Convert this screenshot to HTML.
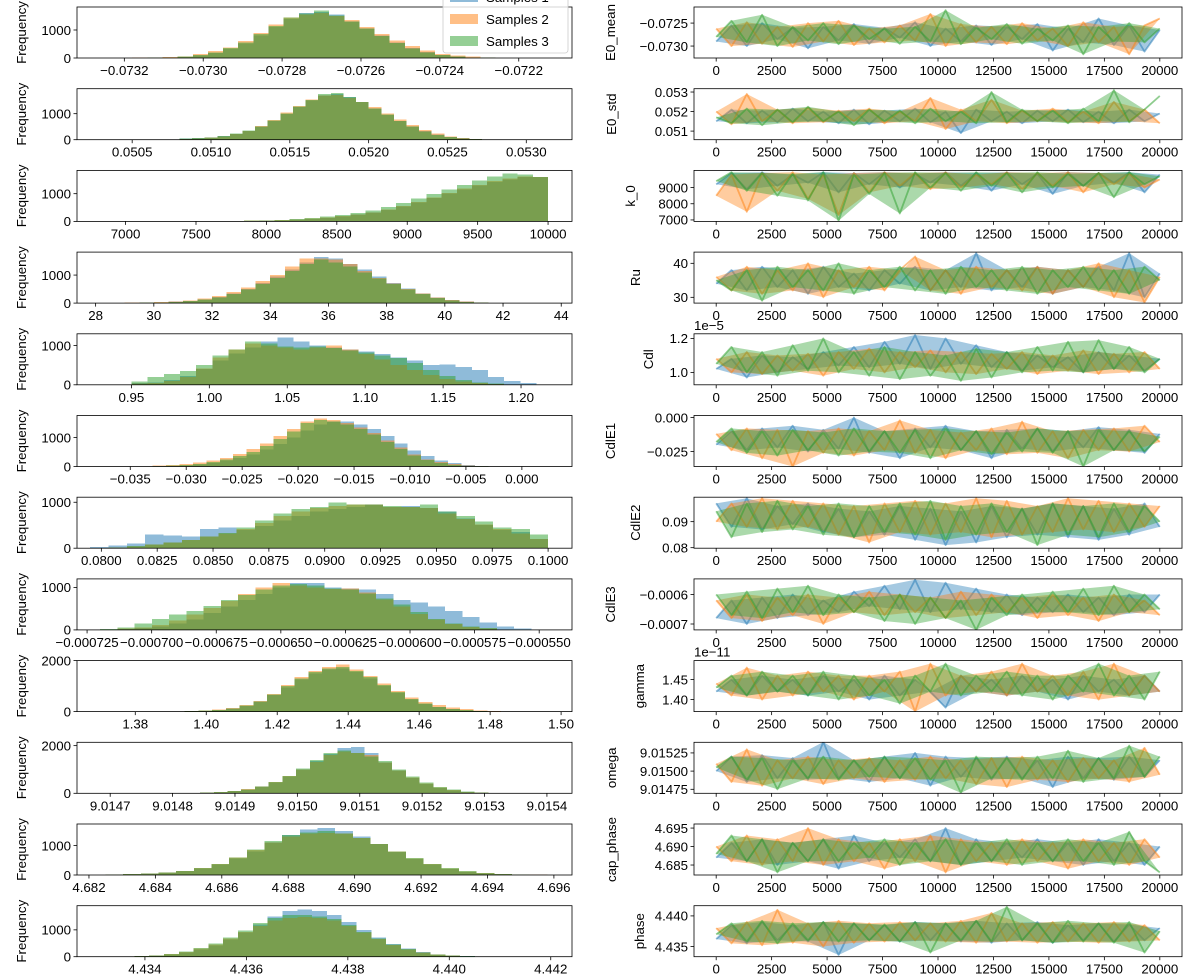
<!DOCTYPE html>
<html><head><meta charset="utf-8"><title>MCMC histograms and traces</title>
<style>
html,body{margin:0;padding:0;background:#fff;}
svg{display:block;font-family:"Liberation Sans","DejaVu Sans",sans-serif;}
</style></head>
<body>
<svg id="fig" width="1200" height="980" viewBox="0 0 1200 980" xmlns="http://www.w3.org/2000/svg"></svg>
<script>
// ---------------- Histogram data (bin heights, 25 bins per series) ----------------
const e0meanRange=[-0.07318,-0.07222];
const e0meanH1=[5,10,20,40,90,180,320,520,800,1100,1400,1600,1650,1550,1300,1050,800,560,360,210,110,55,25,12,5];
const e0meanH2=[10,15,30,60,140,250,380,600,900,1200,1450,1550,1600,1500,1350,1100,850,620,420,260,150,90,45,20,8];
const e0meanH3=[5,12,25,50,100,200,360,560,850,1150,1450,1580,1700,1520,1300,1050,780,540,340,200,110,50,25,10,5];
const e0stdRange=[0.05080,0.05280];
const e0stdH1=[40,60,90,140,220,340,500,720,980,1250,1500,1700,1750,1650,1450,1200,950,720,500,330,200,110,60,25,10];
const e0stdH2=[30,50,80,130,210,330,520,760,1050,1300,1550,1700,1720,1600,1450,1250,1000,780,560,380,230,130,70,30,10];
const e0stdH3=[50,60,90,150,230,350,510,740,1000,1280,1520,1750,1800,1650,1450,1200,960,720,500,320,190,100,50,20,8];
const k0Range=[7300,10000];
const k0H1=[5,5,5,10,15,20,30,40,60,90,130,180,240,320,420,540,680,840,1000,1150,1300,1420,1520,1600,1600];
const k0H2=[10,20,15,20,15,25,35,50,70,100,140,190,250,330,430,550,700,860,1020,1180,1320,1450,1550,1620,1600];
const k0H3=[5,5,10,15,20,25,35,55,80,120,170,230,300,400,520,660,820,980,1150,1320,1480,1620,1720,1700,1600];
const ruRange=[29,41.5];
const ruH1=[10,20,30,50,80,130,220,340,500,720,950,1200,1450,1650,1600,1400,1200,950,720,520,340,200,110,50,20];
const ruH2=[20,30,40,60,100,160,260,400,560,780,1000,1300,1600,1600,1550,1400,1150,900,700,500,340,200,110,50,20];
const ruH3=[10,15,25,40,70,120,200,320,480,680,900,1150,1400,1550,1450,1300,1100,880,680,490,320,190,100,45,15];
const cdlRange=[0.95,1.21];
const cdlH1=[40,60,120,220,400,620,800,950,1100,1200,1100,1000,950,900,850,780,700,620,500,520,450,380,200,100,50];
const cdlH2=[30,50,100,200,420,700,900,1050,1000,950,900,950,1000,900,780,650,500,380,250,150,80,40,20,10,5];
const cdlH3=[80,200,280,350,500,750,900,1100,1050,980,950,980,940,880,820,750,680,560,380,220,120,60,30,10,5];
const cdle1Range=[-0.033,-0.003];
const cdle1H1=[10,20,40,70,120,200,300,420,580,780,1000,1250,1450,1550,1550,1450,1300,1050,800,560,360,210,120,60,25];
const cdle1H2=[30,50,80,130,200,300,430,600,800,1050,1300,1550,1650,1600,1500,1350,1150,900,650,420,250,150,80,40,15];
const cdle1H3=[15,30,50,90,150,240,360,500,700,950,1200,1500,1600,1550,1450,1300,1100,850,600,380,220,120,60,25,10];
const cdle2Range=[0.0795,0.1000];
const cdle2H1=[30,60,100,300,280,250,420,450,400,480,600,700,800,850,900,950,900,920,880,800,650,500,400,350,200];
const cdle2H2=[0,10,40,80,120,180,260,320,420,550,700,800,880,920,950,950,900,900,870,750,640,520,420,320,200];
const cdle2H3=[0,20,50,80,120,180,250,330,450,600,750,850,900,1000,950,950,920,900,950,800,700,580,450,420,300];
const cdle3Range=[-0.000720,-0.000553];
const cdle3H1=[10,20,40,80,150,250,400,550,700,850,1000,1100,1100,1000,980,950,850,700,650,550,450,300,180,80,30];
const cdle3H2=[10,30,60,120,220,360,520,680,850,1000,1100,1050,1000,960,980,880,720,550,380,240,140,70,30,10,5];
const cdle3H3=[20,60,150,260,360,450,560,700,820,950,1050,1080,1050,980,950,860,740,600,420,260,150,80,40,15,5];
const gammaRange=[1.39,1.487];
const gammaH1=[5,15,30,60,120,220,400,650,950,1250,1500,1650,1700,1550,1300,1000,720,480,300,180,100,50,25,10,5];
const gammaH2=[10,20,40,80,150,260,420,700,1050,1350,1600,1750,1850,1650,1400,1100,800,550,380,260,170,100,50,25,10];
const gammaH3=[5,15,35,70,130,230,400,680,1000,1300,1550,1700,1750,1600,1350,1050,760,500,320,190,110,55,25,10,5];
const omegaRange=[9.01480,9.01535];
const omegaH1=[10,20,30,50,90,160,280,460,700,1000,1350,1650,1900,1950,1700,1300,950,650,400,230,120,60,30,15,8];
const omegaH2=[10,20,40,60,100,170,290,470,720,1000,1320,1600,1750,1700,1600,1300,950,660,420,240,130,60,30,15,5];
const omegaH3=[10,15,25,50,90,160,280,470,720,1050,1400,1700,1800,1700,1550,1350,1000,700,450,270,150,80,35,15,5];
const capRange=[4.6825,4.6958];
const capH1=[20,30,50,80,130,220,350,560,800,1100,1350,1550,1600,1500,1300,1050,780,540,350,200,110,55,30,15,10];
const capH2=[20,30,50,80,140,230,370,600,850,1100,1300,1400,1420,1400,1250,1050,800,560,370,220,120,60,30,15,10];
const capH3=[20,30,50,90,140,240,380,600,860,1150,1350,1450,1500,1400,1250,1050,800,580,380,230,130,60,30,15,8];
const phaseRange=[4.4335,4.4408];
const phaseH1=[10,20,40,80,150,260,420,650,900,1200,1500,1700,1750,1700,1550,1300,1000,720,480,300,170,90,45,20,10];
const phaseH2=[10,20,50,100,180,300,460,680,920,1150,1350,1450,1480,1450,1350,1150,900,660,440,270,150,80,40,15,8];
const phaseH3=[10,20,50,100,190,320,500,720,980,1250,1450,1550,1550,1500,1400,1180,920,670,450,280,160,80,40,20,8];

// ---------------- Trace data (values sampled evenly over 0..20000 iterations) ----------------
const e0meanT1=[-0.07290,-0.07255,-0.07300,-0.07250,-0.07285,-0.07260,-0.07305,-0.07258,-0.07288,-0.07252,-0.07295,-0.07260,-0.07282,-0.07248,-0.07300,-0.07262,-0.07290,-0.07255,-0.07298,-0.07258,-0.07285,-0.07252,-0.07310,-0.07262,-0.07292,-0.07240,-0.07298,-0.07255,-0.07312,-0.07265];
const e0meanT2=[-0.07262,-0.07300,-0.07248,-0.07295,-0.07258,-0.07302,-0.07250,-0.07290,-0.07245,-0.07298,-0.07262,-0.07292,-0.07255,-0.07288,-0.07230,-0.07300,-0.07252,-0.07292,-0.07258,-0.07296,-0.07250,-0.07288,-0.07262,-0.07300,-0.07248,-0.07292,-0.07258,-0.07318,-0.07255,-0.07240];
const e0meanT3=[-0.07280,-0.07245,-0.07292,-0.07232,-0.07300,-0.07258,-0.07288,-0.07250,-0.07296,-0.07255,-0.07285,-0.07262,-0.07295,-0.07258,-0.07290,-0.07222,-0.07296,-0.07260,-0.07285,-0.07252,-0.07295,-0.07262,-0.07288,-0.07255,-0.07318,-0.07258,-0.07290,-0.07250,-0.07292,-0.07262];
const e0stdT1=[0.05150,0.05210,0.05140,0.05205,0.05145,0.05215,0.05150,0.05200,0.05140,0.05210,0.05135,0.05205,0.05150,0.05215,0.05145,0.05200,0.05090,0.05210,0.05150,0.05200,0.05140,0.05205,0.05150,0.05210,0.05145,0.05200,0.05140,0.05210,0.05150,0.05190];
const e0stdT2=[0.05200,0.05135,0.05290,0.05150,0.05210,0.05140,0.05220,0.05145,0.05205,0.05150,0.05215,0.05140,0.05200,0.05150,0.05270,0.05110,0.05210,0.05150,0.05260,0.05140,0.05205,0.05150,0.05215,0.05145,0.05200,0.05140,0.05250,0.05150,0.05210,0.05140];
const e0stdT3=[0.05170,0.05140,0.05215,0.05130,0.05210,0.05145,0.05225,0.05150,0.05200,0.05130,0.05210,0.05150,0.05205,0.05140,0.05215,0.05150,0.05200,0.05140,0.05300,0.05145,0.05210,0.05150,0.05205,0.05140,0.05215,0.05150,0.05310,0.05145,0.05210,0.05280];
const k0T1=[9200,9900,8900,9950,9100,9800,9300,9950,8700,9900,9200,9950,9000,9850,9300,9950,9100,9900,8800,9950,9200,9850,8600,9950,9100,9900,9300,9950,8700,9800];
const k0T2=[8500,9800,7500,9900,8800,9950,8300,9800,7300,9900,8700,9950,9100,9900,8900,9950,9000,9800,9200,9950,8900,9900,9100,9950,8700,9900,9200,9850,9000,9500];
const k0T3=[9400,9950,8800,9900,8500,9850,8200,9950,6950,9800,8600,9900,7400,9950,9000,9900,8800,9950,9100,9900,8700,9950,9000,9850,9100,9900,8400,9950,9200,9700];
const ruT1=[34,38,32,39,33,38,31,39,33,37,32,38,34,39,32,38,33,43,32,38,33,39,31,38,33,39,32,43,30,37];
const ruT2=[36,32,39,31,38,32,40,30,38,33,39,32,38,42,32,38,31,39,33,38,32,39,31,38,33,40,30,38,28.5,36];
const ruT3=[35,32,38,29,39,33,38,32,40,31,38,33,39,32,38,31,39,33,38,32,39,31,38,33,39,32,38,31,39,35];
const cdlT1=[1.02,1.08,0.97,1.10,1.00,1.09,1.02,1.12,1.04,1.15,1.03,1.18,1.05,1.22,1.02,1.20,1.05,1.16,1.03,1.12,1.01,1.10,1.03,1.09,1.00,1.12,1.02,1.10,1.01,1.08];
const cdlT2=[1.08,1.00,1.12,0.99,1.10,1.01,1.11,0.98,1.12,1.02,1.14,1.00,1.12,1.03,1.13,1.00,1.12,0.99,1.11,1.02,1.12,0.99,1.10,1.01,1.13,0.99,1.11,1.00,1.12,1.02];
const cdlT3=[1.05,1.15,1.00,1.12,0.98,1.16,1.01,1.20,1.00,1.12,0.98,1.15,0.96,1.12,0.98,1.10,0.95,1.14,0.97,1.12,1.00,1.15,1.01,1.18,1.00,1.19,1.02,1.15,1.00,1.08];
const cdle1T1=[-0.020,-0.010,-0.024,-0.008,-0.022,-0.006,-0.025,-0.009,-0.023,0.000,-0.026,-0.010,-0.030,-0.008,-0.022,-0.006,-0.024,-0.010,-0.030,-0.009,-0.023,-0.008,-0.025,-0.010,-0.022,-0.007,-0.024,-0.009,-0.026,-0.012];
const cdle1T2=[-0.012,-0.024,-0.008,-0.030,-0.009,-0.036,-0.010,-0.026,-0.008,-0.028,-0.010,-0.024,-0.002,-0.026,-0.009,-0.030,-0.011,-0.024,-0.008,-0.027,-0.003,-0.026,-0.010,-0.030,-0.009,-0.024,-0.008,-0.025,-0.006,-0.018];
const cdle1T3=[-0.018,-0.008,-0.026,-0.010,-0.028,-0.009,-0.024,-0.011,-0.028,-0.008,-0.025,-0.010,-0.026,-0.009,-0.030,-0.008,-0.024,-0.010,-0.027,-0.011,-0.025,-0.008,-0.026,-0.010,-0.036,-0.009,-0.024,-0.010,-0.025,-0.014];
const cdle2T1=[0.097,0.088,0.099,0.087,0.096,0.089,0.097,0.086,0.095,0.084,0.094,0.085,0.096,0.083,0.095,0.081,0.094,0.082,0.096,0.084,0.095,0.085,0.097,0.084,0.096,0.083,0.095,0.085,0.097,0.088];
const cdle2T2=[0.090,0.097,0.088,0.099,0.087,0.098,0.088,0.097,0.085,0.096,0.082,0.097,0.086,0.098,0.085,0.097,0.086,0.099,0.084,0.098,0.085,0.096,0.086,0.099,0.087,0.098,0.086,0.097,0.088,0.096];
const cdle2T3=[0.094,0.084,0.097,0.086,0.098,0.087,0.096,0.085,0.097,0.084,0.096,0.086,0.097,0.085,0.098,0.083,0.096,0.085,0.097,0.086,0.095,0.081,0.097,0.085,0.096,0.084,0.097,0.086,0.096,0.090];
const cdle3T1=[-0.00068,-0.00062,-0.00070,-0.00061,-0.00068,-0.00060,-0.00067,-0.00062,-0.00066,-0.00059,-0.00064,-0.00057,-0.00065,-0.00055,-0.00066,-0.00056,-0.00065,-0.00058,-0.00066,-0.00060,-0.00067,-0.00061,-0.00066,-0.00060,-0.00066,-0.00061,-0.00067,-0.00060,-0.00066,-0.00060];
const cdle3T2=[-0.00062,-0.00068,-0.00060,-0.00069,-0.00061,-0.00067,-0.00060,-0.00070,-0.00061,-0.00066,-0.00059,-0.00067,-0.00060,-0.00066,-0.00061,-0.00068,-0.00059,-0.00067,-0.00060,-0.00066,-0.00061,-0.00068,-0.00060,-0.00067,-0.00061,-0.00069,-0.00060,-0.00066,-0.00062,-0.00067];
const cdle3T3=[-0.00060,-0.00067,-0.00059,-0.00068,-0.00058,-0.00066,-0.00057,-0.00067,-0.00060,-0.00066,-0.00061,-0.00069,-0.00060,-0.00070,-0.00061,-0.00068,-0.00062,-0.00072,-0.00061,-0.00067,-0.00060,-0.00066,-0.00059,-0.00066,-0.00058,-0.00067,-0.00057,-0.00066,-0.00060,-0.00065];
const gammaT1=[1.42,1.45,1.41,1.46,1.42,1.45,1.41,1.46,1.42,1.45,1.40,1.46,1.41,1.45,1.42,1.38,1.46,1.42,1.45,1.41,1.46,1.42,1.45,1.40,1.46,1.42,1.45,1.41,1.46,1.42];
const gammaT2=[1.44,1.41,1.48,1.40,1.46,1.41,1.47,1.42,1.46,1.40,1.46,1.42,1.47,1.37,1.49,1.41,1.46,1.42,1.47,1.41,1.49,1.42,1.46,1.41,1.47,1.40,1.49,1.41,1.46,1.42];
const gammaT3=[1.43,1.46,1.41,1.47,1.42,1.46,1.41,1.47,1.40,1.46,1.41,1.45,1.39,1.46,1.42,1.49,1.41,1.46,1.42,1.47,1.41,1.46,1.40,1.46,1.42,1.49,1.41,1.46,1.40,1.47];
const omegaT1=[9.01500,9.01520,9.01485,9.01522,9.01490,9.01518,9.01488,9.01540,9.01490,9.01515,9.01485,9.01520,9.01490,9.01525,9.01480,9.01520,9.01492,9.01518,9.01488,9.01520,9.01490,9.01515,9.01478,9.01520,9.01490,9.01518,9.01488,9.01520,9.01492,9.01515];
const omegaT2=[9.01510,9.01485,9.01530,9.01480,9.01515,9.01490,9.01520,9.01482,9.01515,9.01490,9.01518,9.01485,9.01515,9.01488,9.01520,9.01490,9.01515,9.01482,9.01518,9.01478,9.01520,9.01488,9.01515,9.01485,9.01518,9.01490,9.01515,9.01485,9.01532,9.01495];
const omegaT3=[9.01505,9.01520,9.01488,9.01518,9.01475,9.01515,9.01490,9.01520,9.01488,9.01515,9.01492,9.01520,9.01490,9.01518,9.01488,9.01515,9.01470,9.01520,9.01490,9.01518,9.01488,9.01520,9.01490,9.01528,9.01485,9.01518,9.01490,9.01535,9.01492,9.01520];
const capT1=[4.687,4.691,4.686,4.692,4.685,4.691,4.686,4.692,4.684,4.693,4.686,4.691,4.687,4.692,4.686,4.695,4.685,4.692,4.686,4.691,4.687,4.692,4.686,4.691,4.685,4.692,4.686,4.691,4.685,4.690];
const capT2=[4.690,4.686,4.693,4.685,4.692,4.686,4.695,4.685,4.692,4.686,4.691,4.684,4.692,4.686,4.693,4.683,4.692,4.686,4.691,4.685,4.692,4.686,4.691,4.684,4.692,4.686,4.691,4.685,4.692,4.687];
const capT3=[4.688,4.693,4.686,4.692,4.683,4.691,4.686,4.692,4.686,4.691,4.687,4.692,4.685,4.691,4.686,4.692,4.685,4.691,4.686,4.692,4.685,4.691,4.686,4.692,4.686,4.691,4.685,4.694,4.686,4.683];
const phaseT1=[4.4362,4.4385,4.4355,4.4390,4.4360,4.4385,4.4358,4.4390,4.4336,4.4388,4.4360,4.4385,4.4358,4.4390,4.4360,4.4388,4.4358,4.4392,4.4356,4.4388,4.4360,4.4390,4.4356,4.4385,4.4360,4.4388,4.4358,4.4386,4.4360,4.4380];
const phaseT2=[4.4380,4.4355,4.4390,4.4352,4.4410,4.4356,4.4388,4.4350,4.4392,4.4356,4.4388,4.4358,4.4390,4.4360,4.4388,4.4358,4.4392,4.4356,4.4405,4.4358,4.4388,4.4356,4.4390,4.4358,4.4388,4.4356,4.4390,4.4358,4.4385,4.4360];
const phaseT3=[4.4370,4.4388,4.4358,4.4392,4.4355,4.4388,4.4360,4.4390,4.4358,4.4388,4.4360,4.4386,4.4358,4.4390,4.4340,4.4388,4.4360,4.4392,4.4358,4.4415,4.4360,4.4388,4.4356,4.4392,4.4358,4.4388,4.4356,4.4390,4.4340,4.4375];

// ---------------- Tick labels ----------------
const traceXTicks=[0,2500,5000,7500,10000,12500,15000,17500,20000];
const seriesNames=["Samples 1","Samples 2","Samples 3"];
const colors=["#1f77b4","#ff7f0e","#2ca02c"];

const rows=[
 {p:"E0_mean",h:[e0meanH1,e0meanH2,e0meanH3],hr:e0meanRange,hx:[-0.07332,-0.072065],ht:[-0.0732,-0.0730,-0.0728,-0.0726,-0.0724,-0.0722],hd:4,hy:1821,hyt:[0,1000],
  t:[e0meanT1,e0meanT2,e0meanT3],ty:[-0.07326,-0.07215],tyt:[-0.0725,-0.0730],td:4,lx:611},
 {p:"E0_std",h:[e0stdH1,e0stdH2,e0stdH3],hr:e0stdRange,hx:[0.05015,0.05329],ht:[0.0505,0.0510,0.0515,0.0520,0.0525,0.0530],hd:4,hy:1960,hyt:[0,1000],
  t:[e0stdT1,e0stdT2,e0stdT3],ty:[0.05056,0.05317],tyt:[0.053,0.052,0.051],td:3,lx:612},
 {p:"k_0",h:[k0H1,k0H2,k0H3],hr:k0Range,hx:[6655,10170],ht:[7000,7500,8000,8500,9000,9500,10000],hd:0,hy:1840,hyt:[0,1000],
  t:[k0T1,k0T2,k0T3],ty:[6910,10060],tyt:[9000,8000,7000],td:0,lx:631},
 {p:"Ru",h:[ruH1,ruH2,ruH3],hr:ruRange,hx:[27.36,44.37],ht:[28,30,32,34,36,38,40,42,44],hd:0,hy:1820,hyt:[0,1000],
  t:[ruT1,ruT2,ruT3],ty:[28.3,43.3],tyt:[40,30],td:0,lx:636},
 {p:"Cdl",h:[cdlH1,cdlH2,cdlH3],hr:cdlRange,hx:[0.9151,1.2327],ht:[0.95,1.00,1.05,1.10,1.15,1.20],hd:2,hy:1300,hyt:[0,1000],
  t:[cdlT1,cdlT2,cdlT3],ty:[0.927,1.227],tyt:[1.2,1.0],td:1,lx:649,off:"1e−5"},
 {p:"CdlE1",h:[cdle1H1,cdle1H2,cdle1H3],hr:cdle1Range,hx:[-0.03976,0.00448],ht:[-0.035,-0.030,-0.025,-0.020,-0.015,-0.010,-0.005,0.000],hd:3,hy:1760,hyt:[0,1000],
  t:[cdle1T1,cdle1T2,cdle1T3],ty:[-0.036,0.0015],tyt:[0.000,-0.025],td:3,lx:611},
 {p:"CdlE2",h:[cdle2H1,cdle2H2,cdle2H3],hr:cdle2Range,hx:[0.07891,0.10107],ht:[0.0800,0.0825,0.0850,0.0875,0.0900,0.0925,0.0950,0.0975,0.1000],hd:4,hy:1110,hyt:[0,1000],
  t:[cdle2T1,cdle2T2,cdle2T3],ty:[0.0798,0.0994],tyt:[0.09,0.08],td:2,lx:636},
 {p:"CdlE3",h:[cdle3H1,cdle3H2,cdle3H3],hr:cdle3Range,hx:[-0.0007289,-0.0005373],ht:[-0.000725,-0.000700,-0.000675,-0.000650,-0.000625,-0.000600,-0.000575,-0.000550],hd:6,hy:1200,hyt:[0,1000],
  t:[cdle3T1,cdle3T2,cdle3T3],ty:[-0.00072,-0.000547],tyt:[-0.0006,-0.0007],td:4,lx:611},
 {p:"gamma",h:[gammaH1,gammaH2,gammaH3],hr:gammaRange,hx:[1.36358,1.50307],ht:[1.38,1.40,1.42,1.44,1.46,1.48,1.50],hd:2,hy:2000,hyt:[0,2000],
  t:[gammaT1,gammaT2,gammaT3],ty:[1.37,1.4975],tyt:[1.45,1.40],td:2,lx:640,off:"1e−11"},
 {p:"omega",h:[omegaH1,omegaH2,omegaH3],hr:omegaRange,hx:[9.0146468,9.0154402],ht:[9.0147,9.0148,9.0149,9.0150,9.0151,9.0152,9.0153,9.0154],hd:4,hy:2140,hyt:[0,2000],
  t:[omegaT1,omegaT2,omegaT3],ty:[9.014695,9.015396],tyt:[9.01525,9.01500,9.01475],td:5,lx:612},
 {p:"cap_phase",h:[capH1,capH2,capH3],hr:capRange,hx:[4.68164,4.696545],ht:[4.682,4.684,4.686,4.688,4.690,4.692,4.694,4.696],hd:3,hy:1730,hyt:[0,1000],
  t:[capT1,capT2,capT3],ty:[4.6823,4.6961],tyt:[4.695,4.690,4.685],td:3,lx:612},
 {p:"phase",h:[phaseH1,phaseH2,phaseH3],hr:phaseRange,hx:[4.432661,4.442419],ht:[4.434,4.436,4.438,4.440,4.442],hd:3,hy:1900,hyt:[0,1000],
  t:[phaseT1,phaseT2,phaseT3],ty:[4.43333,4.44167],tyt:[4.440,4.435],td:3,lx:640}
];

const NS="http://www.w3.org/2000/svg";
const svg=document.getElementById("fig");
function mk(tag,attrs,parent){const e=document.createElementNS(NS,tag);for(const k in attrs)e.setAttribute(k,attrs[k]);(parent||svg).appendChild(e);return e;}
function fmt(v,d){let s=Math.abs(v)<1e-12?(0).toFixed(d):v.toFixed(d);return s.replace("-","\u2212");}
function scale(d0,d1,r0,r1){return v=>r0+(v-d0)/(d1-d0)*(r1-r0);}

const L0=77,L1=572,R0=694,R1=1182,H=51;
const FS=13.3;

rows.forEach((r,i)=>{
  const top=7+i*81.7, bot=top+H;
  const key=r.p.toLowerCase().replace(/_/g,"-");
  // ===== histogram axes =====
  const g=mk("g",{});
  
  
  const cp=mk("clipPath",{id:"ch"+i},g);
  mk("rect",{x:L0,y:top,width:L1-L0,height:H},cp);
  const sx=scale(r.hx[0],r.hx[1],L0,L1), sy=scale(0,r.hy,bot,top);
  const bars=mk("g",{"clip-path":"url(#ch"+i+")","shape-rendering":"crispEdges"},g);
  r.h.forEach((counts,s)=>{
    const w=(r.hr[1]-r.hr[0])/counts.length;
    counts.forEach((c,b)=>{
      const x0=sx(r.hr[0]+b*w), x1=sx(r.hr[0]+(b+1)*w);
      const rc=mk("rect",{x:x0,y:sy(c),width:Math.max(0,x1-x0),height:Math.max(0,bot-sy(c)),fill:colors[s],"fill-opacity":0.5},bars);
      
      
    });
  });
  const fr=mk("rect",{x:L0,y:top,width:L1-L0,height:H,fill:"none",stroke:"#000","stroke-width":0.8},g);
  
  
  r.ht.forEach(v=>{
    const x=sx(v);
    mk("line",{x1:x,x2:x,y1:bot,y2:bot+3.5,stroke:"#000","stroke-width":0.8},g);
    const t=mk("text",{x:x,y:bot+17,"font-size":FS,"text-anchor":"middle",fill:"#000"},g);
    t.textContent=fmt(v,r.hd);
    
    
  });
  r.hyt.forEach(v=>{
    const y=sy(v);
    mk("line",{x1:L0-3.5,x2:L0,y1:y,y2:y,stroke:"#000","stroke-width":0.8},g);
    const t=mk("text",{x:L0-6,y:y+4.8,"font-size":FS,"text-anchor":"end",fill:"#000"},g);
    t.textContent=String(v);
    
    
  });
  const yl=mk("text",{x:0,y:0,"font-size":FS,"text-anchor":"middle",transform:"translate(26,"+(top+H/2)+") rotate(-90)",fill:"#000"},g);
  yl.textContent="Frequency";
  
  

  // ===== trace axes =====
  const g2=mk("g",{});
  
  
  const cp2=mk("clipPath",{id:"ct"+i},g2);
  mk("rect",{x:R0,y:top,width:R1-R0,height:H},cp2);
  const tx=scale(-1000,21000,R0,R1), ty=scale(r.ty[0],r.ty[1],bot,top);
  const lines=mk("g",{"clip-path":"url(#ct"+i+")"},g2);
  r.t.forEach((vals,s)=>{
    const P=vals.map((v,k)=>[tx(k*20000/(vals.length-1)),ty(v)]);
    // dense-noise band: envelope between alternating samples
    const ev=P.filter((p,k)=>k%2===0), od=P.filter((p,k)=>k%2===1);
    const poly=ev.concat(od.slice().reverse()).map(p=>p[0].toFixed(1)+","+p[1].toFixed(1)).join(" ");
    const band=mk("polygon",{points:poly,fill:colors[s],"fill-opacity":0.4,stroke:"none"},lines);
    
    
    const pts=P.map(p=>p[0].toFixed(1)+","+p[1].toFixed(1)).join(" ");
    const pl=mk("polyline",{points:pts,fill:"none",stroke:colors[s],"stroke-opacity":0.5,"stroke-width":1.8,"stroke-linejoin":"round"},lines);
    
    
  });
  const fr2=mk("rect",{x:R0,y:top,width:R1-R0,height:H,fill:"none",stroke:"#000","stroke-width":0.8},g2);
  
  
  traceXTicks.forEach(v=>{
    const x=tx(v);
    mk("line",{x1:x,x2:x,y1:bot,y2:bot+3.5,stroke:"#000","stroke-width":0.8},g2);
    const t=mk("text",{x:x,y:bot+17,"font-size":FS,"text-anchor":"middle",fill:"#000"},g2);
    t.textContent=String(v);
    
    
  });
  r.tyt.forEach(v=>{
    const y=ty(v);
    mk("line",{x1:R0-3.5,x2:R0,y1:y,y2:y,stroke:"#000","stroke-width":0.8},g2);
    const t=mk("text",{x:R0-6,y:y+4.8,"font-size":FS,"text-anchor":"end",fill:"#000"},g2);
    t.textContent=fmt(v,r.td);
    
    
  });
  const tl=mk("text",{x:0,y:0,"font-size":FS,"text-anchor":"middle",transform:"translate("+(r.lx+4)+","+(top+H/2)+") rotate(-90)",fill:"#000"},g2);
  tl.textContent=r.p;
  
  
  if(r.off){
    const o=mk("text",{x:R0,y:top-4,"font-size":FS,fill:"#000"},g2);
    o.textContent=r.off;
    
    
  }
});

// ===== legend (top of first histogram, partially cropped) =====
const lg=mk("g",{});


mk("rect",{x:443,y:-14,width:125,height:67,rx:3,fill:"#fff","fill-opacity":0.8,stroke:"#ccc","stroke-width":0.8},lg);
seriesNames.forEach((n,s)=>{
  const y=-3+s*22;
  const sw=mk("rect",{x:450,y:y-5,width:28,height:10,fill:colors[s],"fill-opacity":0.5},lg);
  
  
  const t=mk("text",{x:486,y:y+5,"font-size":FS,fill:"#000"},lg);
  t.textContent=n;
  
  
});
</script>
</body></html>
